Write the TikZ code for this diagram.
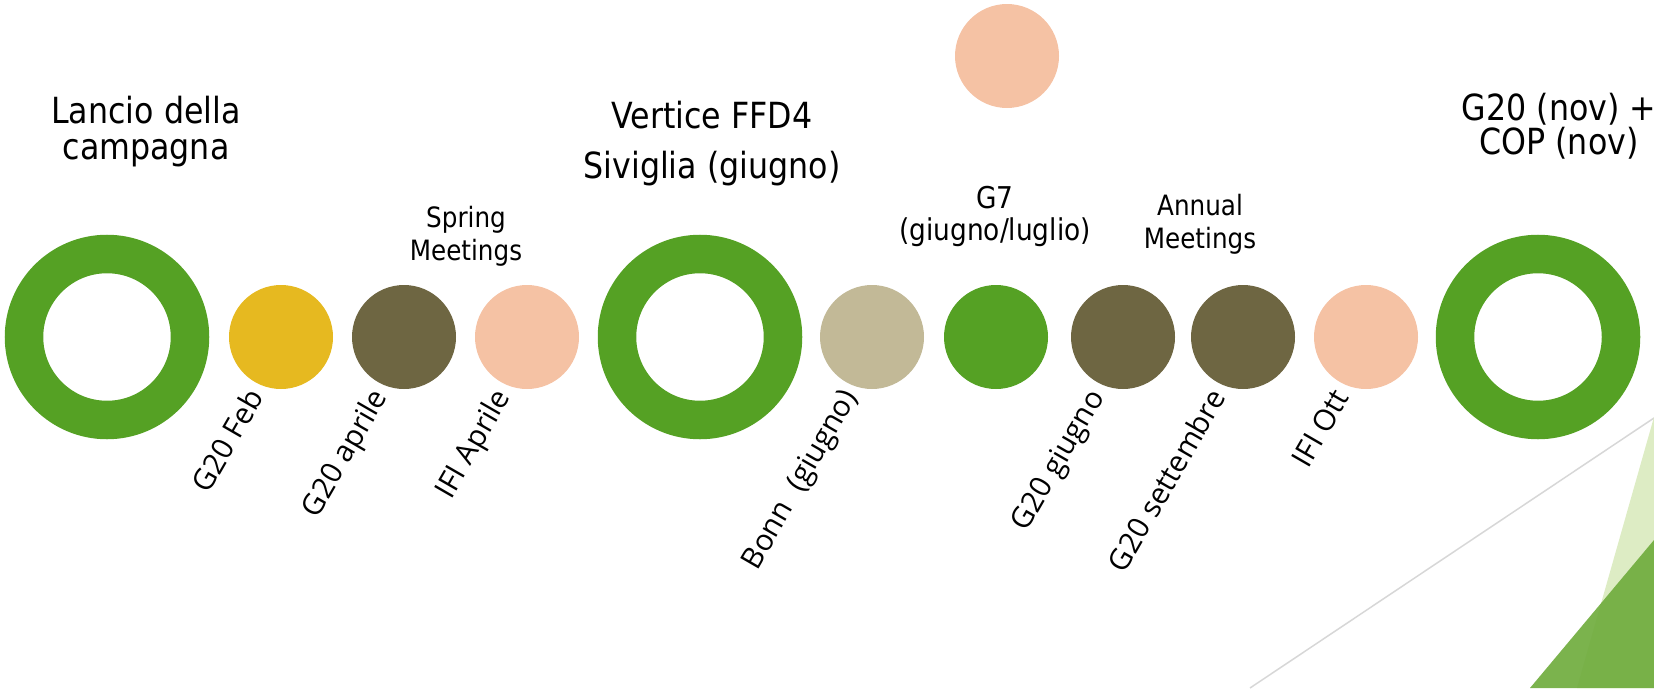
\documentclass[tikz,border=0pt]{standalone}
\usepackage{fontspec}
\setmainfont{Open Sans}
\newfontfamily\titlefont[FakeStretch=0.88]{DejaVu Sans}
\newfontfamily\labelfont{Open Sans}
\definecolor{ffgreen}{RGB}{85,161,36}
\definecolor{ffyellow}{RGB}{230,185,32}
\definecolor{ffolive}{RGB}{110,102,66}
\definecolor{ffpeach}{RGB}{245,194,164}
\definecolor{ffbeige}{RGB}{194,185,151}
\definecolor{fflight}{RGB}{221,236,196}
\definecolor{ffdark}{RGB}{112,172,62}
\definecolor{ffline}{RGB}{215,215,215}
\begin{document}
\begin{tikzpicture}[x=1pt,y=-1pt,
  ring/.style={circle, draw=ffgreen, line width=38.5pt, minimum size=166pt, inner sep=0pt},
  dot/.style={circle, minimum size=104pt, inner sep=0pt},
  title/.style={font=\titlefont\fontsize{36}{40}\selectfont, anchor=base, inner sep=0pt},
  small/.style={font=\titlefont\fontsize{28}{32}\selectfont, anchor=base, inner sep=0pt},
  smallb/.style={font=\titlefont\fontsize{30}{34}\selectfont, anchor=base, inner sep=0pt},
  rlab/.style={font=\labelfont\fontsize{29.5}{32}\selectfont, rotate=60, anchor=base east, inner sep=0pt}]
\useasboundingbox (0,0) rectangle (1654,688);
% background decoration
\coordinate (lnA) at (1250,688);
\coordinate (lnB) at (1654,418);
\draw[ffline, line width=1.5pt] (lnA) -- (lnB);
\fill[fflight] (1654,417) -- (1577,688) -- (1654,688) -- cycle;
\fill[ffdark, opacity=0.92] (1530,688) -- (1654,540) -- (1654,688) -- cycle;
% circles
\node[ring] (r1) at (107,337) {};
\node[dot, fill=ffyellow] (c1) at (281,337) {};
\node[dot, fill=ffolive] (c2) at (404,337) {};
\node[dot, fill=ffpeach] (c3) at (527,337) {};
\node[ring] (r2) at (700,337) {};
\node[dot, fill=ffbeige] (c4) at (872,337) {};
\node[dot, fill=ffgreen] (c5) at (996,337) {};
\node[dot, fill=ffolive] (c6) at (1123,337) {};
\node[dot, fill=ffolive] (c7) at (1243,337) {};
\node[dot, fill=ffpeach] (c8) at (1366,337) {};
\node[ring] (r3) at (1538,337) {};
\node[dot, fill=ffpeach] (ctop) at (1007,56) {};
% titles
\node[title] (t1a) at (146,123) {Lancio della};
\node[title] (t1b) at (146,159) {campagna};
\node[title] (t2a) at (712,128) {Vertice FFD4};
\node[title] (t2b) at (712,178) {Siviglia (giugno)};
\node[title] (t3a) at (1559,120) {G20 (nov) +};
\node[title] (t3b) at (1559,154) {COP (nov)};
\node[small] (s1a) at (466,227) {Spring};
\node[small] (s1b) at (466,260) {Meetings};
\node[smallb] (s2a) at (995,208) {G7};
\node[smallb] (s2b) at (995,240) {(giugno/luglio)};
\node[small] (s3a) at (1200,215) {Annual};
\node[small] (s3b) at (1200,248) {Meetings};
% rotated labels
\node[rlab] (l1) at (265,397) {G20 Feb};
\node[rlab] (l2) at (388,397) {G20 aprile};
\node[rlab] (l3) at (511,397) {IFI Aprile};
\node[rlab] (l4) at (858,397) {Bonn\hspace{0.3em} (giugno)};
\node[rlab] (l6) at (1105,397) {G20 giugno};
\node[rlab] (l7) at (1227,397) {G20 settembre};
\node[rlab] (l8) at (1350,397) {IFI Ott};
\end{tikzpicture}
\end{document}
